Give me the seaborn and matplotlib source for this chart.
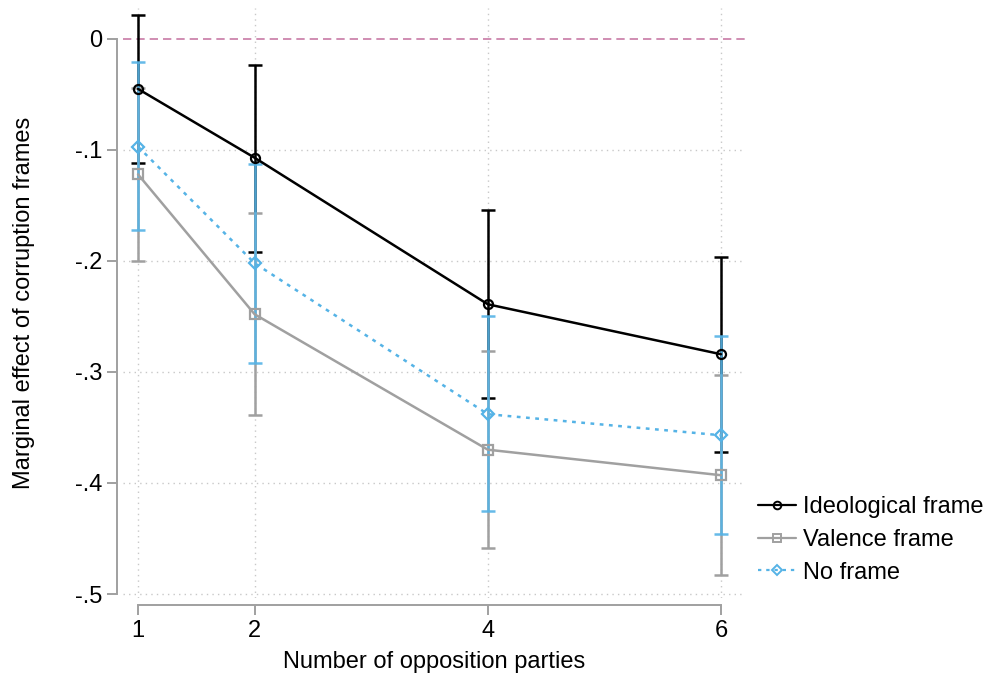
import numpy as np
import matplotlib
matplotlib.use("Agg")
import matplotlib.pyplot as plt
from matplotlib.lines import Line2D
import pandas as pd
import seaborn as sns

# values
parties = [1, 2, 4, 6]
ideo_est = [-0.045, -0.107, -0.239, -0.284]
ideo_lo = [-0.112, -0.192, -0.323, -0.372]
ideo_hi = [0.022, -0.023, -0.154, -0.196]
val_est = [-0.122, -0.248, -0.370, -0.393]
val_lo = [-0.200, -0.339, -0.459, -0.483]
val_hi = [-0.044, -0.157, -0.281, -0.303]
nof_est = [-0.097, -0.202, -0.338, -0.357]
nof_lo = [-0.172, -0.292, -0.425, -0.446]
nof_hi = [-0.021, -0.113, -0.250, -0.268]

series_names = ["Ideological frame", "Valence frame", "No frame"]
yticks = [0, -0.1, -0.2, -0.3, -0.4, -0.5]
ytick_labels = ["0", "-.1", "-.2", "-.3", "-.4", "-.5"]

sns.set_theme(style="white")
plt.rcParams['font.family'] = ['Liberation Sans', 'DejaVu Sans']
plt.rcParams['text.color'] = 'black'
plt.rcParams['axes.labelcolor'] = 'black'

df = pd.DataFrame({
    "parties": parties * 3,
    "est": ideo_est + val_est + nof_est,
    "lo": ideo_lo + val_lo + nof_lo,
    "hi": ideo_hi + val_hi + nof_hi,
    "frame": np.repeat(series_names, len(parties)),
})

colors = {"Ideological frame": "#000000", "Valence frame": "#a0a0a0", "No frame": "#55b3e6"}
markers = {"Ideological frame": "o", "Valence frame": "s", "No frame": "D"}
msizes = {"Ideological frame": 6.5, "Valence frame": 7, "No frame": 6.5}
lstyles = {"Ideological frame": "-", "Valence frame": "-", "No frame": (0, (1.5, 2.2))}

fig = plt.figure(figsize=(9.89, 6.73), dpi=100)
ax = fig.add_axes([123/989, 75/673, 622/989, 590/673])

# grid
for yv in yticks:
    if yv != 0:
        ax.axhline(yv, color="#c8c8c8", lw=1, ls=(0, (1, 3)), zorder=0)
for xv in parties:
    ax.axvline(xv, color="#c8c8c8", lw=1, ls=(0, (1, 3)), zorder=0)
ax.axhline(0, color="#c87aa5", lw=1.2, ls=(0, (5, 3)), zorder=1)

# confidence intervals
for name in series_names:
    sub = df[df.frame == name]
    ax.errorbar(sub.parties, sub.est, yerr=[sub.est - sub.lo, sub.hi - sub.est],
                fmt="none", ecolor=colors[name], elinewidth=1.8, capsize=5,
                capthick=1.8, zorder=2, alpha=0.9 if name == "No frame" else 1)

# lines with markers
for name in series_names:
    sub = df[df.frame == name]
    sns.lineplot(data=sub, x="parties", y="est", ax=ax, color=colors[name],
                 lw=1.8, linestyle=lstyles[name], marker=markers[name],
                 markersize=msizes[name], markerfacecolor="none",
                 markeredgecolor=colors[name], markeredgewidth=1.6, zorder=3)

ax.set_xlim(0.871, 6.206)
ax.set_ylim(-0.5036, 0.0279)
ax.set_xticks(parties)
ax.set_xticklabels([str(p) for p in parties])
ax.set_yticks(yticks)
ax.set_yticklabels(ytick_labels)

for s in ["top", "right"]:
    ax.spines[s].set_visible(False)
ax.spines["left"].set_position(("outward", 4))
ax.spines["bottom"].set_position(("outward", 5))
ax.spines["left"].set_bounds(-0.5, 0)
ax.spines["bottom"].set_bounds(1, 6)
for s in ["left", "bottom"]:
    ax.spines[s].set_color("#a0a0a0")
    ax.spines[s].set_linewidth(1.4)
ax.tick_params(axis="both", which="major", direction="out", length=7, width=1.4,
               color="#a0a0a0", labelsize=17, labelcolor="black", pad=4)
ax.tick_params(axis="y", left=True)
ax.tick_params(axis="x", bottom=True)

ax.set_xlabel("Number of opposition parties", fontsize=17, labelpad=6, color="black")
ax.set_ylabel("Marginal effect of corruption frames", fontsize=17, labelpad=29, color="black")

handles = [Line2D([0], [0], color=colors[n], lw=1.6, linestyle=lstyles[n],
                  marker=markers[n], markersize=msizes[n] - 1, markerfacecolor="none",
                  markeredgewidth=1.4) for n in series_names]
leg = fig.legend(handles, series_names, loc="center left",
                 bbox_to_anchor=(758/989, 1 - 540/673),
                 frameon=False, fontsize=17, handlelength=1.6, handletextpad=0.3,
                 labelspacing=0.45, borderpad=0, borderaxespad=0)
for t in leg.get_texts():
    t.set_color("black")

fig.savefig("out.png", dpi=100)
